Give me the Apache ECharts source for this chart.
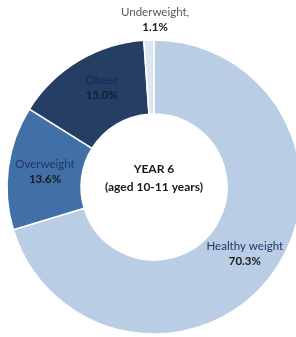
<!DOCTYPE html>
<html>
<head>
<meta charset="utf-8">
<script src="https://cdn.jsdelivr.net/npm/echarts@6/dist/echarts.min.js"></script>
<style>
html,body{margin:0;padding:0;background:#fff;}
#main{width:296px;height:337px;}
</style>
</head>
<body>
<div id="main"></div>
<script>
var categories = ['Healthy weight', 'Overweight', 'Obese', 'Underweight'];
var values = [70.3, 13.6, 15.0, 1.1];
var colors = ['#b9cde5', '#4170a9', '#253f64', '#dce6f2'];
var nameColors = ['#1f3864', '#1f3864', '#13294a', '#595959'];
var valueColors = ['#1a1a1a', '#1a1a1a', '#111c2c', '#1a1a1a'];
var centerLines = ['YEAR 6', '(aged 10-11 years)'];

var font = 'Lato, "Open Sans", sans-serif';
var data = categories.map(function (c, i) {
  var d = {
    name: c,
    value: values[i],
    itemStyle: { color: colors[i] },
    label: {
      rich: {
        n: { color: nameColors[i], fontSize: 11.5, fontFamily: font, lineHeight: 15 },
        v: { color: valueColors[i], fontSize: 11.5, fontWeight: 'bold', fontFamily: font, lineHeight: 15 }
      }
    }
  };
  if (c === 'Underweight') {
    d.label.offset = [5, -54];
  }
  if (c === 'Obese') {
    d.label.offset = [6, -2];
  }
  if (c === 'Overweight') {
    d.label.offset = [3, 0];
  }
  return d;
});

var chart = echarts.init(document.getElementById('main'));
chart.setOption({
  animation: false,
  graphic: [{
    type: 'text',
    style: {
      text: centerLines.join('\n'),
      x: 0,
      textAlign: 'center',
      fill: '#1a1a1a',
      font: 'bold 12px ' + font,
      lineHeight: 18
    },
    position: [154, 160]
  }],
  series: [{
    type: 'pie',
    center: [154, 187],
    radius: [73, 147],
    startAngle: 90,
    clockwise: true,
    avoidLabelOverlap: false,
    itemStyle: { borderColor: '#fff', borderWidth: 1.5 },
    label: {
      show: true,
      position: 'inside',
      formatter: function (p) {
        var nm = p.name + (p.name === 'Underweight' ? ',' : '');
        return '{n|' + nm + '}\n{v|' + p.value.toFixed(1) + '%}';
      }
    },
    labelLine: { show: false },
    emphasis: { disabled: true },
    data: data
  }]
});
</script>
</body>
</html>
